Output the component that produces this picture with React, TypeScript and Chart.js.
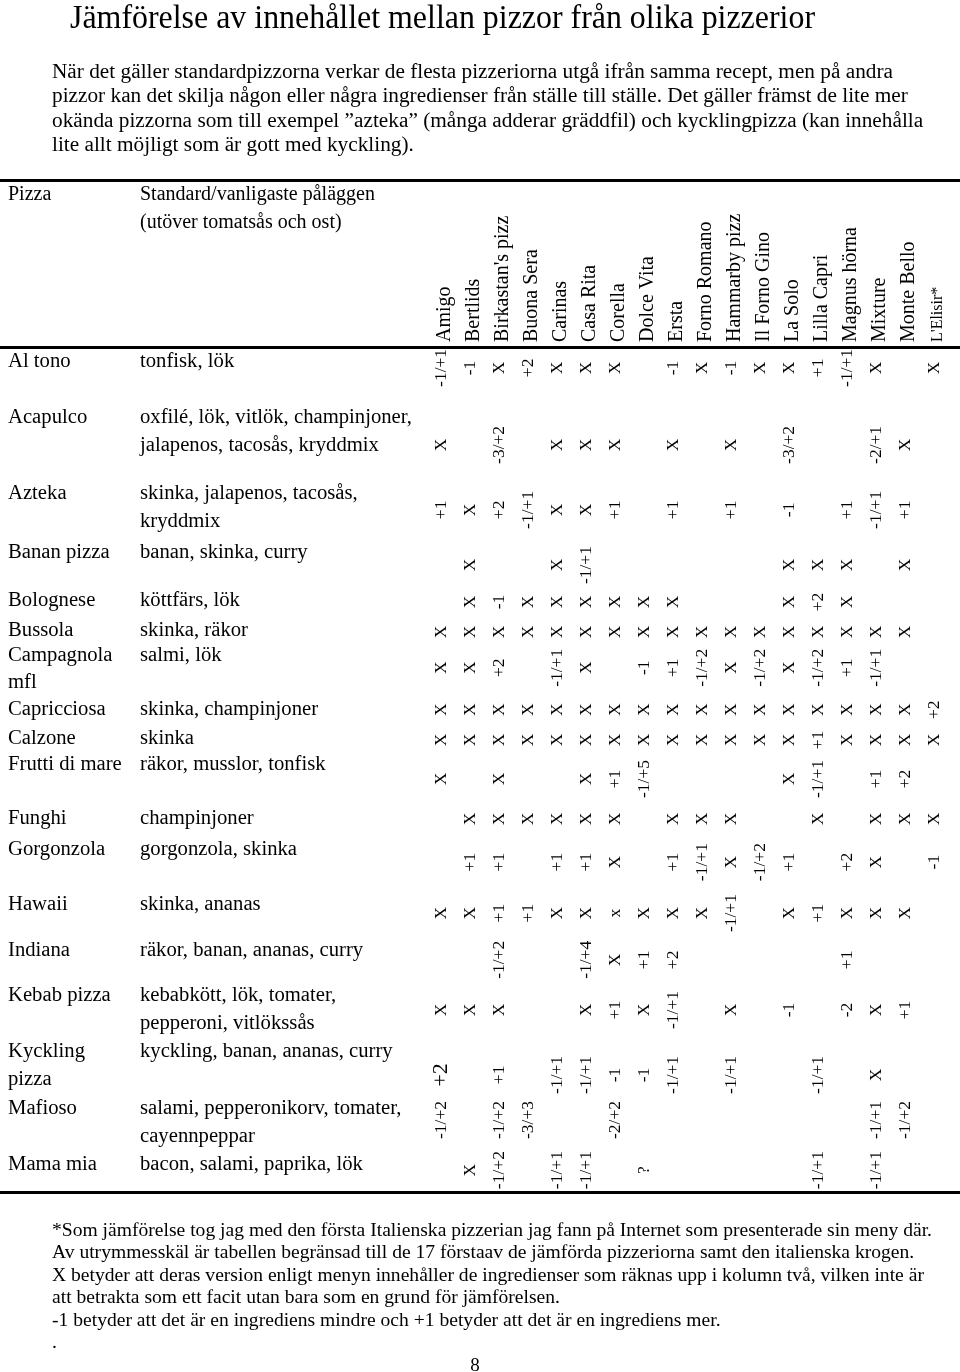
import { useEffect, useRef } from 'react';
import { Chart, registerables } from 'chart.js';

Chart.register(...registerables);

// ---------- DATA ----------
const title = 'Jämförelse av innehållet mellan pizzor från olika pizzerior';

const introLines = [
  'När det gäller standardpizzorna verkar de flesta pizzeriorna utgå ifrån samma recept, men på andra',
  'pizzor kan det skilja någon eller några ingredienser från ställe till ställe. Det gäller främst de lite mer',
  'okända pizzorna som till exempel ”azteka” (många adderar gräddfil) och kycklingpizza (kan innehålla',
  'lite allt möjligt som är gott med kyckling).',
];

const headerPizza = 'Pizza';
const headerToppings = ['Standard/vanligaste påläggen', '(utöver tomatsås och ost)'];

const pizzerias = [
  'Amigo', 'Bertlids', "Birkastan's pizz", 'Buona Sera', 'Carinas', 'Casa Rita', 'Corella',
  'Dolce Vita', 'Ersta', 'Forno Romano', 'Hammarby pizz', 'Il Forno Gino', 'La Solo',
  'Lilla Capri', 'Magnus hörna', 'Mixture', 'Monte Bello', "L'Elisir*",
];

const pizzas = [
  'Al tono', 'Acapulco', 'Azteka', 'Banan pizza', 'Bolognese', 'Bussola', 'Campagnola\nmfl',
  'Capricciosa', 'Calzone', 'Frutti di mare', 'Funghi', 'Gorgonzola', 'Hawaii', 'Indiana',
  'Kebab pizza', 'Kyckling\npizza', 'Mafioso', 'Mama mia',
];

const toppings = [
  'tonfisk, lök',
  'oxfilé, lök, vitlök, champinjoner,\njalapenos, tacosås, kryddmix',
  'skinka, jalapenos, tacosås,\nkryddmix',
  'banan, skinka, curry',
  'köttfärs, lök',
  'skinka, räkor',
  'salmi, lök',
  'skinka, champinjoner',
  'skinka',
  'räkor, musslor, tonfisk',
  'champinjoner',
  'gorgonzola, skinka',
  'skinka, ananas',
  'räkor, banan, ananas, curry',
  'kebabkött, lök, tomater,\npepperoni, vitlökssås',
  'kyckling, banan, ananas, curry',
  'salami, pepperonikorv, tomater,\ncayennpeppar',
  'bacon, salami, paprika, lök',
];

// one array per pizza, one entry per pizzeria (same order as `pizzerias`)
const alTono = ['-1/+1', '-1', 'X', '+2', 'X', 'X', 'X', '', '-1', 'X', '-1', 'X', 'X', '+1', '-1/+1', 'X', '', 'X'];
const acapulco = ['X', '', '-3/+2', '', 'X', 'X', 'X', '', 'X', '', 'X', '', '-3/+2', '', '', '-2/+1', 'X', ''];
const azteka = ['+1', 'X', '+2', '-1/+1', 'X', 'X', '+1', '', '+1', '', '+1', '', '-1', '', '+1', '-1/+1', '+1', ''];
const bananPizza = ['', 'X', '', '', 'X', '-1/+1', '', '', '', '', '', '', 'X', 'X', 'X', '', 'X', ''];
const bolognese = ['', 'X', '-1', 'X', 'X', 'X', 'X', 'X', 'X', '', '', '', 'X', '+2', 'X', '', '', ''];
const bussola = ['X', 'X', 'X', 'X', 'X', 'X', 'X', 'X', 'X', 'X', 'X', 'X', 'X', 'X', 'X', 'X', 'X', ''];
const campagnola = ['X', 'X', '+2', '', '-1/+1', 'X', '', '-1', '+1', '-1/+2', 'X', '-1/+2', 'X', '-1/+2', '+1', '-1/+1', '', ''];
const capricciosa = ['X', 'X', 'X', 'X', 'X', 'X', 'X', 'X', 'X', 'X', 'X', 'X', 'X', 'X', 'X', 'X', 'X', '+2'];
const calzone = ['X', 'X', 'X', 'X', 'X', 'X', 'X', 'X', 'X', 'X', 'X', 'X', 'X', '+1', 'X', 'X', 'X', 'X'];
const fruttiDiMare = ['X', '', 'X', '', '', 'X', '+1', '-1/+5', '', '', '', '', 'X', '-1/+1', '', '+1', '+2', ''];
const funghi = ['', 'X', 'X', 'X', 'X', 'X', 'X', '', 'X', 'X', 'X', '', '', 'X', '', 'X', 'X', 'X'];
const gorgonzola = ['', '+1', '+1', '', '+1', '+1', 'X', '', '+1', '-1/+1', 'X', '-1/+2', '+1', '', '+2', 'X', '', '-1'];
const hawaii = ['X', 'X', '+1', '+1', 'X', 'X', 'x', 'X', 'X', 'X', '-1/+1', '', 'X', '+1', 'X', 'X', 'X', ''];
const indiana = ['', '', '-1/+2', '', '', '-1/+4', 'X', '+1', '+2', '', '', '', '', '', '+1', '', '', ''];
const kebabPizza = ['X', 'X', 'X', '', '', 'X', '+1', 'X', '-1/+1', '', 'X', '', '-1', '', '-2', 'X', '+1', ''];
const kycklingPizza = ['+2', '', '+1', '', '-1/+1', '-1/+1', '-1', '-1', '-1/+1', '', '-1/+1', '', '', '-1/+1', '', 'X', '', ''];
const mafioso = ['-1/+2', '', '-1/+2', '-3/+3', '', '', '-2/+2', '', '', '', '', '', '', '', '', '-1/+1', '-1/+2', ''];
const mamaMia = ['', 'X', '-1/+2', '', '-1/+1', '-1/+1', '', '?', '', '', '', '', '', '-1/+1', '', '-1/+1', '', ''];

const cellRows = [
  alTono, acapulco, azteka, bananPizza, bolognese, bussola, campagnola, capricciosa, calzone,
  fruttiDiMare, funghi, gorgonzola, hawaii, indiana, kebabPizza, kycklingPizza, mafioso, mamaMia,
];

const noteLines = [
  '*Som jämförelse tog jag med den första Italienska pizzerian jag fann på Internet som presenterade sin meny där.',
  'Av utrymmesskäl är tabellen begränsad till de 17 förstaav de jämförda pizzeriorna samt den italienska krogen.',
  'X betyder att deras version enligt menyn innehåller de ingredienser som räknas upp i kolumn två, vilken inte är',
  'att betrakta som ett facit utan bara som en grund för jämförelsen.',
  '-1 betyder att det är en ingrediens mindre och +1 betyder att det är en ingrediens mer.',
  '.',
];
const pageNumber = '8';

// ---------- LAYOUT (row heights in text-line units) ----------
const FIRST_ROW = 0.43;
const rowGaps = [2.0, 2.71, 2.11, 1.71, 1.07, 0.89, 1.93, 1.04, 0.93, 1.93, 1.11, 1.96, 1.64, 1.61, 2.0, 2.04, 2.0];
const cellShift = [0.21, 0.96, 0.57, 0.43, 0.04, 0.04, 0.43, 0, 0.04, 0.5, 0, 0.43, 0.29, 0.32, 0.5, 0.82, 0.39, 0.18];
const LINE_STEP = 0.98;

const labelPos: number[] = [];
{
  let acc = FIRST_ROW;
  for (let i = 0; i < pizzas.length; i++) {
    labelPos.push(acc);
    acc += rowGaps[i] ?? 0;
  }
}

const SERIF = "'Liberation Serif', 'Times New Roman', serif";

type Cell = { x: string; y: number; v: string; r: number; c: number };
const points: Cell[] = [];
cellRows.forEach((row, r) => {
  row.forEach((v, c) => {
    if (v) points.push({ x: pizzerias[c], y: labelPos[r] + cellShift[r], v, r, c });
  });
});

function scaled(ctx: CanvasRenderingContext2D, text: string, x: number, y: number, sx: number) {
  ctx.save();
  ctx.translate(x, y);
  ctx.scale(sx, 1);
  ctx.fillText(text, 0, 0);
  ctx.restore();
}

const pagePlugin = {
  id: 'pageText',
  afterDraw(chart: any) {
    const ctx: CanvasRenderingContext2D = chart.ctx;
    const xs = chart.scales.x;
    const ys = chart.scales.y;
    ctx.save();
    ctx.fillStyle = '#000';
    ctx.textAlign = 'left';

    // title
    ctx.textBaseline = 'alphabetic';
    ctx.font = `33px ${SERIF}`;
    scaled(ctx, title, 70, 28, 745 / ctx.measureText(title).width);

    // intro paragraph
    ctx.font = `20.5px ${SERIF}`;
    const sxIntro = 841 / ctx.measureText(introLines[0]).width;
    introLines.forEach((l, i) => scaled(ctx, l, 52, 78 + i * 24.4, sxIntro));

    // rules
    ctx.fillRect(0, 179, 960, 3);
    ctx.fillRect(0, 346, 960, 3);
    ctx.fillRect(0, 1191, 960, 3);

    // table header
    ctx.font = `20px ${SERIF}`;
    ctx.fillText(headerPizza, 8, 200);
    headerToppings.forEach((l, i) => ctx.fillText(l, 140, 200 + i * 28));

    // column headers (rotated)
    ctx.textBaseline = 'middle';
    pizzerias.forEach((name, i) => {
      const px = xs.getPixelForValue(i) + 4;
      ctx.save();
      ctx.translate(px, 342);
      ctx.rotate(-Math.PI / 2);
      ctx.font = i === pizzerias.length - 1 ? `16px ${SERIF}` : `20px ${SERIF}`;
      ctx.fillText(name, 0, 0);
      ctx.restore();
    });

    // row labels
    ctx.font = `20px ${SERIF}`;
    const sxRow = 272 / ctx.measureText('oxfilé, lök, vitlök, champinjoner,').width;
    pizzas.forEach((name, r) => {
      const base = labelPos[r];
      name.split('\n').forEach((l, k) => scaled(ctx, l, 8, ys.getPixelForValue(base + k * LINE_STEP), sxRow));
      toppings[r].split('\n').forEach((l, k) => scaled(ctx, l, 140, ys.getPixelForValue(base + k * LINE_STEP), sxRow));
    });

    // cells (rotated, at the dataset's own element positions)
    const meta = chart.getDatasetMeta(0);
    const data = chart.data.datasets[0].data as Cell[];
    ctx.textAlign = 'center';
    meta.data.forEach((el: any, i: number) => {
      const d = data[i];
      ctx.save();
      ctx.translate(el.x, el.y);
      ctx.rotate(-Math.PI / 2);
      const big = pizzas[d.r].startsWith('Kyckling') && d.c === 0;
      ctx.font = `${big ? 22 : 17.5}px ${SERIF}`;
      ctx.fillText(d.v, 0, 0);
      ctx.restore();
    });

    // footnotes
    ctx.textAlign = 'left';
    ctx.textBaseline = 'alphabetic';
    ctx.font = `18px ${SERIF}`;
    const sxNote = 880 / ctx.measureText(noteLines[0]).width;
    noteLines.forEach((l, i) => scaled(ctx, l, 52, 1236 + i * 22.4, sxNote));
    ctx.textAlign = 'center';
    ctx.font = `19px ${SERIF}`;
    ctx.fillText(pageNumber, 475, 1371);

    ctx.restore();
  },
};

export default function App() {
  const ref = useRef<HTMLCanvasElement>(null);
  useEffect(() => {
    document.body.style.margin = '0';
    const chart = new Chart(ref.current as HTMLCanvasElement, {
      type: 'scatter',
      data: {
        datasets: [
          {
            data: points as any,
            pointRadius: 0,
            pointHoverRadius: 0,
            showLine: false,
          },
        ],
      },
      options: {
        responsive: false,
        animation: false,
        devicePixelRatio: 1,
        events: [],
        layout: { padding: { left: 426.5, right: 11.5, top: 350, bottom: 182 } },
        scales: {
          x: { type: 'category', labels: pizzerias, offset: true, display: false },
          y: { type: 'linear', min: 0, max: 30, reverse: true, display: false },
        },
        plugins: { legend: { display: false }, tooltip: { enabled: false } },
      },
      plugins: [pagePlugin],
    });
    return () => chart.destroy();
  }, []);
  return <canvas ref={ref} width={960} height={1372} style={{ display: 'block', width: 960, height: 1372 }} />;
}
